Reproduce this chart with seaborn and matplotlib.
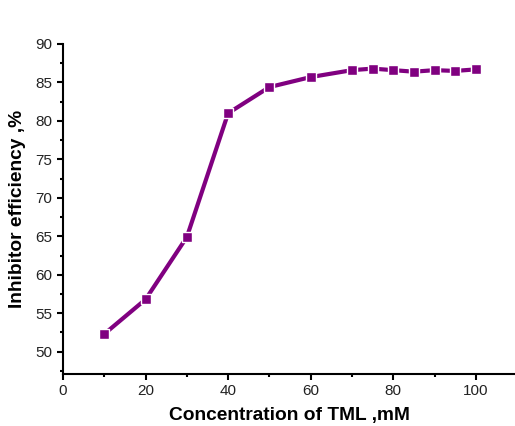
import matplotlib
matplotlib.use("Agg")
import matplotlib.pyplot as plt
import pandas as pd
import seaborn as sns
from matplotlib.ticker import MultipleLocator

concentration = [10, 20, 30, 40, 50, 60, 70, 75, 80, 85, 90, 95, 100]
efficiency = [52.3, 56.8, 64.9, 81.0, 84.4, 85.7, 86.6, 86.8, 86.6, 86.4, 86.6, 86.5, 86.7]

df = pd.DataFrame({"conc": concentration, "eff": efficiency})

sns.set_style("ticks")
plt.rcParams["font.family"] = ["Liberation Sans", "DejaVu Sans"]

fig = plt.figure(figsize=(5.15, 4.26), dpi=100)
ax = fig.add_axes([63 / 515, 1 - 374 / 426, 1 - 63 / 515, (374 - 44) / 426])

sns.lineplot(
    data=df, x="conc", y="eff", ax=ax,
    color="#800080", linewidth=3, marker="s", markersize=7.5,
    markeredgecolor="white", markeredgewidth=1,
)

ax.set_xlim(0, 109.5)
ax.set_ylim(47.1, 90)
ax.xaxis.set_major_locator(MultipleLocator(20))
ax.xaxis.set_minor_locator(MultipleLocator(10))
ax.yaxis.set_major_locator(MultipleLocator(5))
ax.yaxis.set_minor_locator(MultipleLocator(2.5))
ax.set_yticks([50, 55, 60, 65, 70, 75, 80, 85, 90])
ax.tick_params(axis="both", which="major", length=4, width=1.5, labelsize=11,
               direction="out", labelcolor="#222222", color="black")
ax.tick_params(axis="both", which="minor", length=2.5, width=1.5,
               direction="out", color="black")

sns.despine(ax=ax, top=True, right=True)
for s in ("left", "bottom"):
    ax.spines[s].set_linewidth(1.5)
    ax.spines[s].set_color("black")

ax.set_xlabel("Concentration of TML ,mM", fontsize=13.8, fontweight="bold",
              labelpad=6, color="black")
ax.set_ylabel("Inhibitor efficiency ,%", fontsize=13.8, fontweight="bold",
              labelpad=7, color="black")

fig.savefig("out.png", dpi=100)
